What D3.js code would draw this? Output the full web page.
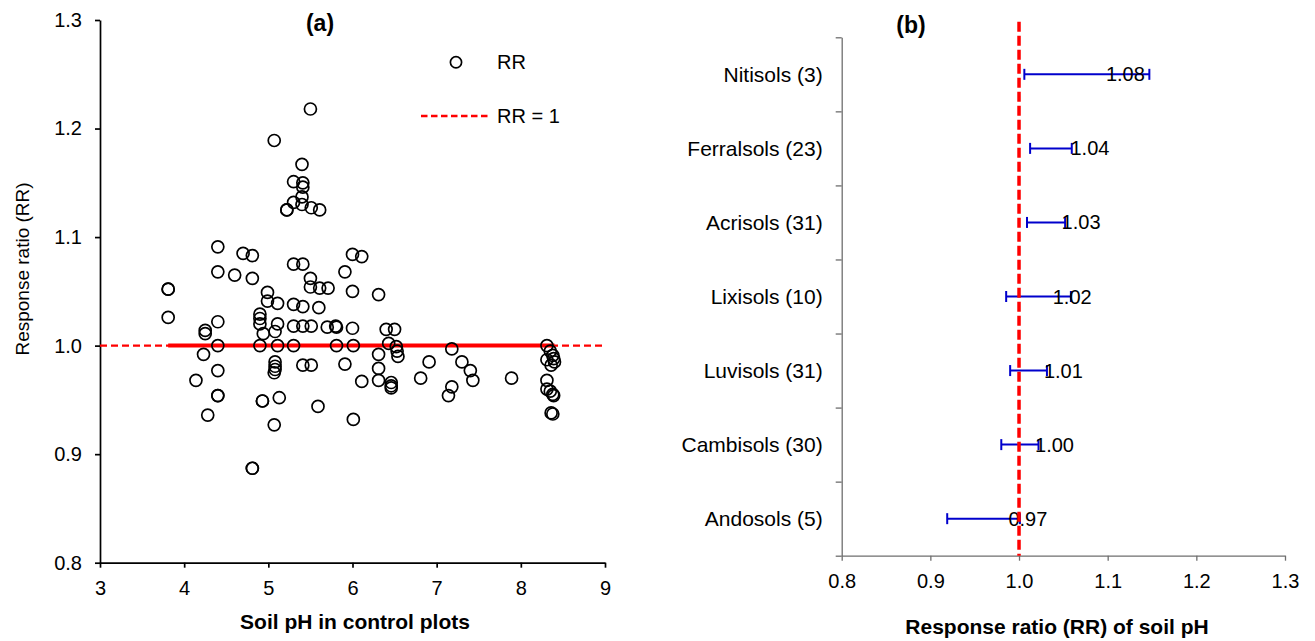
<!DOCTYPE html>
<html>
<head>
<meta charset="utf-8">
<script src="https://cdn.jsdelivr.net/npm/d3@7"></script>
<style>
  body { margin: 0; background: #fff; }
  svg text { font-family: "Liberation Sans", Arial, sans-serif; fill: #000; }
</style>
</head>
<body>
<div class="svg-container"></div>
<script>
// panel (a): soil pH in control plots vs response ratio
var phValues = [5.50, 5.07, 5.40, 5.30, 5.41, 5.41, 5.40, 5.30, 5.40, 5.51, 5.61, 5.22, 5.22,
  4.40, 4.70, 4.81, 6.00, 6.11, 4.40, 4.60, 4.81, 5.30, 5.41, 5.91, 5.50, 5.50, 5.61, 5.71,
  6.00, 6.31, 3.81, 3.81, 3.81, 4.99, 4.99, 5.11, 5.30, 5.41, 5.60, 4.90, 4.90, 4.90, 4.40,
  4.25, 4.25, 5.11, 5.30, 5.41, 5.51, 5.70, 5.80, 5.81, 6.00, 6.40, 6.50, 4.94, 5.08, 4.40,
  4.90, 5.11, 5.30, 5.81, 6.01, 6.43, 6.52, 6.53, 6.54, 4.23, 6.31, 5.08, 5.08, 5.08, 5.07,
  5.41, 5.51, 5.91, 4.40, 6.31, 6.31, 6.11, 6.46, 6.46, 6.46, 4.14, 4.40, 4.40, 4.93, 4.93,
  5.13, 5.59, 4.28, 6.01, 5.07, 4.81, 4.81, 6.91, 7.18, 7.30, 7.40, 7.43, 6.81, 7.18, 7.14,
  7.89, 8.31, 8.35, 8.38, 8.39, 8.40, 8.36, 8.31, 8.31, 8.31, 8.35, 8.38, 8.39, 8.36, 8.38];
var rrValues = [1.218, 1.189, 1.167, 1.151, 1.150, 1.146, 1.137, 1.132, 1.130, 1.127, 1.125, 1.125, 1.125,
  1.091, 1.085, 1.083, 1.084, 1.082, 1.068, 1.065, 1.062, 1.075, 1.075, 1.068, 1.062, 1.054, 1.053, 1.053,
  1.050, 1.047, 1.052, 1.052, 1.026, 1.049, 1.041, 1.039, 1.038, 1.036, 1.035, 1.029, 1.025, 1.020, 1.022,
  1.014, 1.011, 1.020, 1.018, 1.018, 1.018, 1.017, 1.018, 1.017, 1.016, 1.015, 1.015, 1.011, 1.013, 1.000,
  1.000, 1.000, 1.000, 1.000, 1.000, 1.002, 0.999, 0.995, 0.990, 0.992, 0.992, 0.985, 0.981, 0.978, 0.975,
  0.982, 0.982, 0.983, 0.977, 0.979, 0.968, 0.967, 0.966, 0.963, 0.961, 0.968, 0.954, 0.954, 0.949, 0.949,
  0.952, 0.944, 0.936, 0.932, 0.927, 0.887, 0.887, 0.985, 0.997, 0.985, 0.977, 0.968, 0.970, 0.962, 0.954,
  0.970, 1.000, 0.995, 0.991, 0.988, 0.985, 0.982, 0.987, 0.968, 0.960, 0.958, 0.955, 0.954, 0.938, 0.937];
var phTicks = [3, 4, 5, 6, 7, 8, 9];
var rrTicks = [0.8, 0.9, 1.0, 1.1, 1.2, 1.3];

// panel (b): mean response ratio by soil group with confidence interval
var soilGroups = ["Nitisols (3)", "Ferralsols (23)", "Acrisols (31)", "Lixisols (10)",
  "Luvisols (31)", "Cambisols (30)", "Andosols (5)"];
var soilMeans = [1.08, 1.04, 1.03, 1.02, 1.01, 1.00, 0.97];
var ciLow = [1.006, 1.0125, 1.009, 0.9855, 0.990, 0.980, 0.919];
var ciHigh = [1.147, 1.0595, 1.052, 1.0585, 1.0315, 1.022, 1.001];

var width = 1315, height = 641;
var svg = d3.select(".svg-container").append("svg")
  .attr("width", width)
  .attr("height", height);

// ---------- (a) ----------
var x = d3.scaleLinear().domain([3, 9]).range([100, 605]);
var y = d3.scaleLinear().domain([0.8, 1.3]).range([562.7, 20]);

var yAxisA = svg.append("g")
  .attr("transform", "translate(" + x(3) + ",0)")
  .call(d3.axisLeft(y).tickValues(rrTicks).tickFormat(d3.format(".1f"))
    .tickSize(5).tickSizeOuter(0).tickPadding(13));
var xAxisA = svg.append("g")
  .attr("transform", "translate(0," + y(0.8) + ")")
  .call(d3.axisBottom(x).tickValues(phTicks).tickFormat(d3.format("d"))
    .tickSize(5).tickSizeOuter(0).tickPadding(13));
[yAxisA, xAxisA].forEach(function(g) {
  g.selectAll("path, line").attr("stroke", "#000").attr("stroke-width", 1.7);
  g.selectAll("text").style("font-size", "20px").attr("fill", "#000");
});

// RR = 1 reference, dashed across and solid over data range
svg.append("line")
  .attr("x1", x(3)).attr("x2", x(9))
  .attr("y1", y(1)).attr("y2", y(1))
  .attr("stroke", "#ff0000").attr("stroke-width", 2.3)
  .attr("stroke-dasharray", "7,4");
var phExtent = d3.extent(phValues);
svg.append("line")
  .attr("x1", x(phExtent[0])).attr("x2", x(phExtent[1]))
  .attr("y1", y(1)).attr("y2", y(1))
  .attr("stroke", "#ff0000").attr("stroke-width", 4);

// points
svg.append("g").selectAll("circle")
  .data(phValues)
  .enter().append("circle")
  .attr("cx", function(d) { return x(d); })
  .attr("cy", function(d, i) { return y(rrValues[i]); })
  .attr("r", 6)
  .attr("fill", "none")
  .attr("stroke", "#000")
  .attr("stroke-width", 1.7);

// legend
svg.append("circle")
  .attr("cx", 456).attr("cy", 62.3).attr("r", 5.6)
  .attr("fill", "none").attr("stroke", "#000").attr("stroke-width", 1.7);
svg.append("text").attr("x", 497).attr("y", 62.3).attr("dy", "0.35em")
  .style("font-size", "20px").text("RR");
svg.append("line")
  .attr("x1", 421).attr("x2", 490).attr("y1", 116).attr("y2", 116)
  .attr("stroke", "#ff0000").attr("stroke-width", 2.5)
  .attr("stroke-dasharray", "6.5,3.5");
svg.append("text").attr("x", 497).attr("y", 116).attr("dy", "0.35em")
  .style("font-size", "20px").text("RR = 1");

// titles
svg.append("text").attr("x", 320).attr("y", 23).attr("dy", "0.35em")
  .style("text-anchor", "middle").style("font-size", "23px").style("font-weight", "bold")
  .text("(a)");
svg.append("text").attr("x", 355).attr("y", 622).attr("dy", "0.35em")
  .style("text-anchor", "middle").style("font-size", "21px").style("font-weight", "bold")
  .text("Soil pH in control plots");
svg.append("text")
  .attr("transform", "translate(22.7,269) rotate(-90)")
  .attr("dy", "0.35em")
  .style("text-anchor", "middle").style("font-size", "19px")
  .text("Response ratio (RR)");

// ---------- (b) ----------
var xb = d3.scaleLinear().domain([0.8, 1.3]).range([841.7, 1285]);
var rowEdge = d3.scaleLinear().domain([0, soilGroups.length]).range([37.3, 555.7]);
var yb = d3.scaleBand().domain(soilGroups).range([37.3, 555.7]);

var yAxisB = svg.append("g")
  .attr("transform", "translate(" + xb(0.8) + ",0)")
  .call(d3.axisLeft(rowEdge).tickValues(d3.range(soilGroups.length + 1))
    .tickFormat("").tickSize(6).tickSizeOuter(0));
var xAxisB = svg.append("g")
  .attr("transform", "translate(0," + rowEdge(soilGroups.length) + ")")
  .call(d3.axisBottom(xb).tickValues(rrTicks).tickFormat(d3.format(".1f"))
    .tickSize(5).tickSizeOuter(0).tickPadding(13));
[yAxisB, xAxisB].forEach(function(g) {
  g.selectAll("path, line").attr("stroke", "#6e6e6e").attr("stroke-width", 1.3);
  g.selectAll("text").style("font-size", "20px").attr("fill", "#000");
});

svg.append("g").selectAll("text")
  .data(soilGroups)
  .enter().append("text")
  .attr("x", 822.7)
  .attr("y", function(d) { return yb(d) + yb.bandwidth() / 2; })
  .attr("dy", "0.35em")
  .style("text-anchor", "end")
  .style("font-size", "21px")
  .text(function(d) { return d; });

// error bars
var bars = svg.append("g").selectAll("g")
  .data(soilGroups)
  .enter().append("g")
  .attr("transform", function(d) { return "translate(0," + (yb(d) + yb.bandwidth() / 2) + ")"; });
bars.append("line")
  .attr("x1", function(d, i) { return xb(ciLow[i]); })
  .attr("x2", function(d, i) { return xb(ciHigh[i]); })
  .attr("stroke", "#0000cc").attr("stroke-width", 2);
bars.append("line")
  .attr("x1", function(d, i) { return xb(ciLow[i]); })
  .attr("x2", function(d, i) { return xb(ciLow[i]); })
  .attr("y1", -5.5).attr("y2", 5.5)
  .attr("stroke", "#0000cc").attr("stroke-width", 2);
bars.append("line")
  .attr("x1", function(d, i) { return xb(ciHigh[i]); })
  .attr("x2", function(d, i) { return xb(ciHigh[i]); })
  .attr("y1", -5.5).attr("y2", 5.5)
  .attr("stroke", "#0000cc").attr("stroke-width", 2);

// RR = 1 vertical
svg.append("line")
  .attr("x1", xb(1)).attr("x2", xb(1))
  .attr("y1", 21.7).attr("y2", rowEdge(soilGroups.length))
  .attr("stroke", "#ff0000").attr("stroke-width", 3.5)
  .attr("stroke-dasharray", "10,4");

// mean labels
bars.append("text")
  .attr("x", function(d, i) { return xb(soilMeans[i]) + 16; })
  .attr("dy", "0.35em")
  .style("font-size", "20px")
  .text(function(d, i) { return d3.format(".2f")(soilMeans[i]); });

svg.append("text").attr("x", 911).attr("y", 25).attr("dy", "0.35em")
  .style("text-anchor", "middle").style("font-size", "23px").style("font-weight", "bold")
  .text("(b)");
svg.append("text").attr("x", 1057).attr("y", 627).attr("dy", "0.35em")
  .style("text-anchor", "middle").style("font-size", "21px").style("font-weight", "bold")
  .text("Response ratio (RR) of soil pH");
</script>
</body>
</html>
